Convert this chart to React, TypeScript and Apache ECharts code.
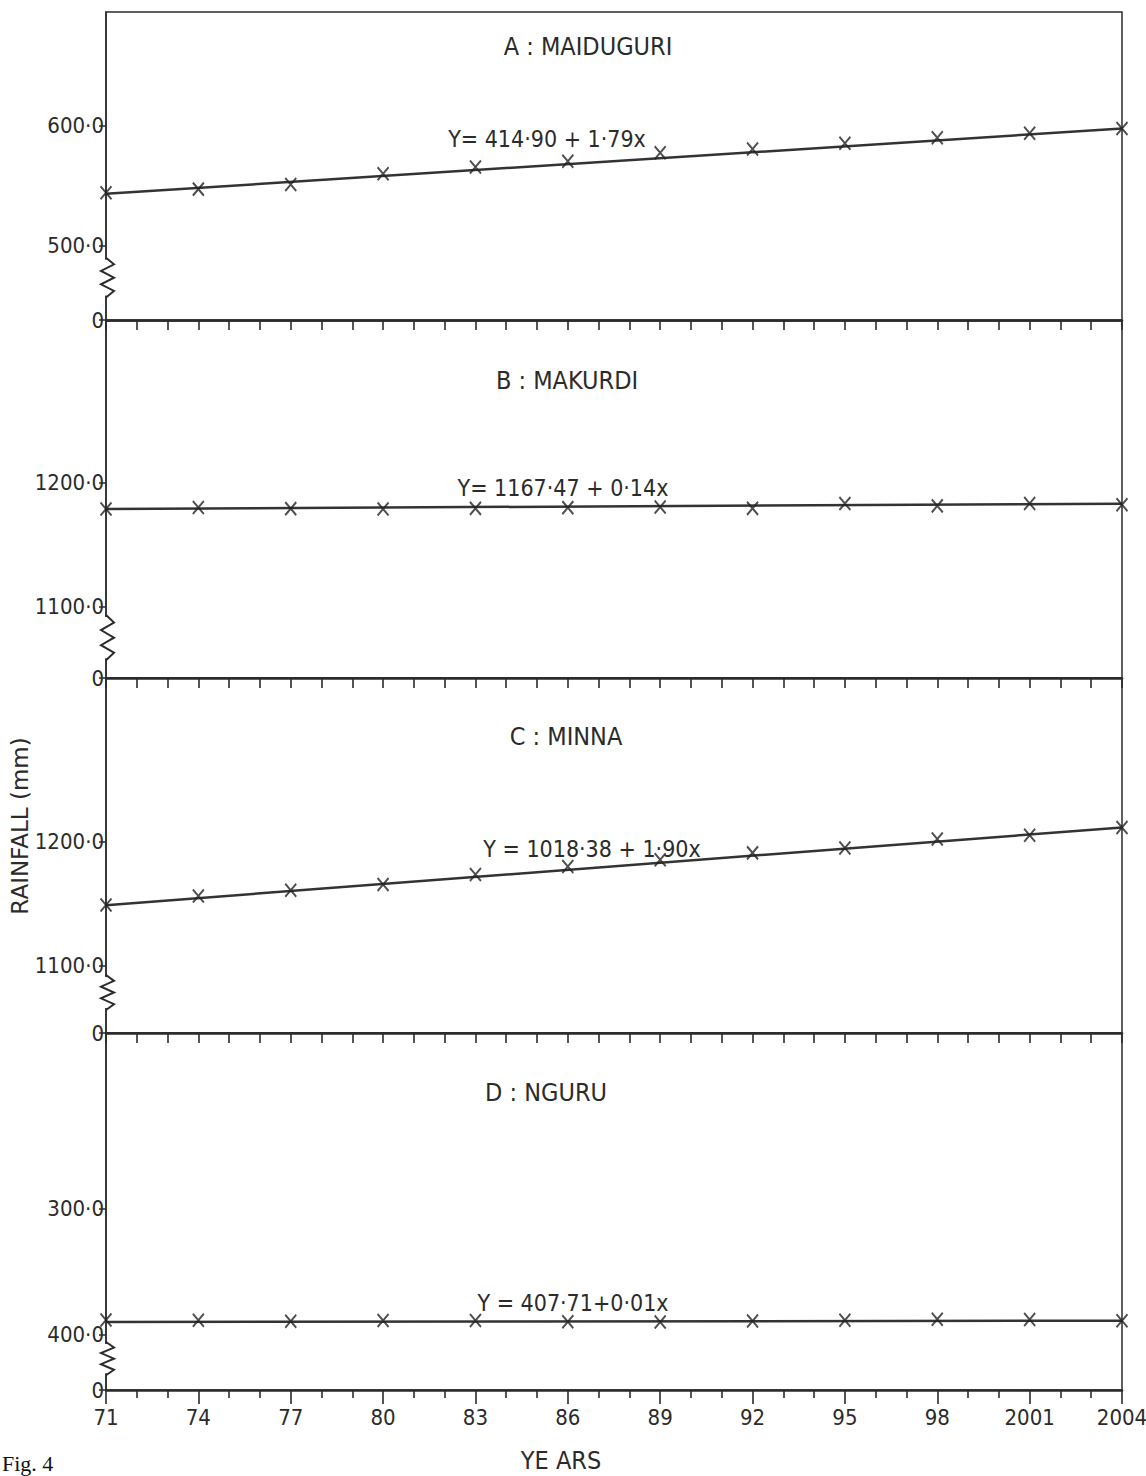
import React, { useEffect, useRef } from "react";
import * as echarts from "echarts";

// ---- data ----
const years = [1971, 1974, 1977, 1980, 1983, 1986, 1989, 1992, 1995, 1998, 2001, 2004];
const trendYears = [1971, 2004];

const maiduguri = [544.2, 547.2, 551.0, 560.0, 565.6, 570.4, 577.5, 580.7, 585.4, 590.0, 593.9, 597.8];
const makurdi = [1179.0, 1180.2, 1179.3, 1179.0, 1179.5, 1180.1, 1180.6, 1179.5, 1183.4, 1181.5, 1183.5, 1182.5];
const minna = [1149.2, 1156.3, 1161.0, 1165.6, 1173.7, 1180.1, 1185.5, 1191.1, 1195.0, 1202.3, 1205.3, 1211.6];
const nguru = [411.9, 411.7, 410.8, 411.4, 411.4, 410.4, 410.3, 411.0, 411.7, 412.4, 412.2, 411.3];

const trendMaiduguri = [543.3, 597.8];
const trendMakurdi = [1179.0, 1183.3];
const trendMinna = [1149.0, 1211.6];
const trendNguru = [410.3, 411.3];

const stationTitles = ["A : MAIDUGURI", "B : MAKURDI", "C : MINNA", "D : NGURU"];
const equations = [
  "Y= 414·90 + 1·79x",
  "Y= 1167·47 + 0·14x",
  "Y = 1018·38 + 1·90x",
  "Y = 407·71+0·01x",
];

// y-axis ranges (broken axes: bottom value is labelled "0")
const yMins = [438, 1042.7, 1046, 356.3];
const yMaxs = [695, 1330.6, 1332, 639.7];
// labelled tick values and their texts
const yTickValues = [
  [500, 600],
  [1100, 1200],
  [1100, 1200],
  [400, 500],
];
const yTickTexts = [
  ["500·0", "600·0"],
  ["1100·0", "1200·0"],
  ["1100·0", "1200·0"],
  ["400·0", "300·0"],
];
// axis break (zigzag) ranges
const breakTops = [490, 1093.5, 1092.7, 394.4];
const breakBottoms = [456.7, 1057, 1064.5, 368];

const xTickLabel = (v: number) => (v >= 2000 ? String(v) : String(v).slice(2));

const FONT = "'DejaVu Sans Condensed', 'Liberation Sans Narrow', 'DejaVu Sans', sans-serif";
const INK = "#2b2b2b";

export default function App() {
  const ref = useRef<HTMLDivElement>(null);

  useEffect(() => {
    document.body.style.margin = "0";
    if (!ref.current) return;
    const chart = echarts.init(ref.current, null, { renderer: "svg" });

    const values = [maiduguri, makurdi, minna, nguru];
    const trends = [trendMaiduguri, trendMakurdi, trendMinna, trendNguru];

    const gridTops = [12, 321, 678, 1033];
    const gridHeights = [308, 357, 355, 357];
    const titleY = [46, 380, 736, 1092];
    const titleX = [588, 567, 566, 546];
    const eqY = [139, 488, 849, 1303];
    const eqX = [547, 563, 592, 573];

    const grids: any[] = [];
    const xAxes: any[] = [];
    const yAxes: any[] = [];
    const series: any[] = [];
    const graphics: any[] = [];

    for (let i = 0; i < 4; i++) {
      const last = i === 3;
      grids.push({
        left: 106,
        width: 1016,
        top: gridTops[i],
        height: gridHeights[i],
        show: true,
        borderColor: INK,
        borderWidth: 1.5,
        containLabel: false,
        outerBoundsMode: "none",
      });
      xAxes.push({
        type: "value",
        gridIndex: i,
        min: 1971,
        max: 2004,
        interval: 3,
        axisLine: { show: true, onZero: false, lineStyle: { color: INK, width: 2.5 } },
        axisTick: { show: true, inside: false, length: last ? 14 : 10, lineStyle: { color: INK, width: 1.6 } },
        minorTick: { show: true, splitNumber: 3, length: last ? 8 : 10, lineStyle: { color: INK, width: 1.6 } },
        axisLabel: {
          show: last,
          formatter: xTickLabel,
          fontFamily: FONT,
          fontSize: 22,
          color: INK,
          margin: 16,
        },
        splitLine: { show: false },
        minorSplitLine: { show: false },
      });
      const tickVals = [yMins[i], ...yTickValues[i]];
      const tickTexts = ["0", ...yTickTexts[i]];
      yAxes.push({
        type: "value",
        gridIndex: i,
        min: yMins[i],
        max: yMaxs[i],
        axisLine: { show: true, onZero: false, lineStyle: { color: INK, width: 1.5 } },
        axisTick: {
          show: true,
          length: 7,
          customValues: tickVals,
          lineStyle: { color: INK, width: 1.5 },
        },
        axisLabel: {
          show: true,
          customValues: tickVals,
          formatter: (v: number) => {
            const k = tickVals.findIndex((t) => Math.abs(t - v) < 1e-6);
            return k >= 0 ? tickTexts[k] : "";
          },
          fontFamily: FONT,
          fontSize: 22,
          color: INK,
          margin: 2,
        },
        splitLine: { show: false },
      });

      // trend line
      series.push({
        type: "line",
        xAxisIndex: i,
        yAxisIndex: i,
        data: trendYears.map((y, k) => [y, trends[i][k]]),
        symbol: "none",
        lineStyle: { color: "#333", width: 2.5 },
        silent: true,
        z: 3,
      });
      // observation markers (x)
      series.push({
        type: "scatter",
        xAxisIndex: i,
        yAxisIndex: i,
        data: years.map((y, k) => [y, values[i][k]]),
        symbol: "path://M0,0L10,12M10,0L0,12",
        symbolSize: [11, 13],
        itemStyle: { color: "none", borderColor: "#222", borderWidth: 2 },
        clip: false,
        silent: true,
        z: 4,
      });
      // axis break zigzag
      series.push({
        type: "custom",
        xAxisIndex: i,
        yAxisIndex: i,
        data: [[1971, breakTops[i], breakBottoms[i]]],
        clip: false,
        silent: true,
        z: 5,
        renderItem: (params: any, api: any) => {
          const p1 = api.coord([api.value(0), api.value(1)]);
          const p2 = api.coord([api.value(0), api.value(2)]);
          const x = p1[0];
          const y1 = p1[1];
          const y2 = p2[1];
          const n = 6;
          const pts: number[][] = [[x, y1]];
          for (let k = 1; k < n; k++) {
            pts.push([x + (k % 2 === 1 ? 8 : -5), y1 + ((y2 - y1) * k) / n]);
          }
          pts.push([x, y2]);
          return {
            type: "group",
            children: [
              {
                type: "rect",
                shape: { x: x - 2, y: y1 + 2, width: 4, height: y2 - y1 - 4 },
                style: { fill: "#fff" },
              },
              {
                type: "polyline",
                shape: { points: pts },
                style: { stroke: INK, lineWidth: 2, fill: "none" },
              },
            ],
          };
        },
      });

      graphics.push({
        type: "text",
        x: titleX[i],
        y: titleY[i],
        style: {
          text: stationTitles[i],
          fontFamily: FONT,
          fontSize: 25,
          fill: INK,
          align: "center",
          verticalAlign: "middle",
        },
      });
      graphics.push({
        type: "text",
        x: eqX[i],
        y: eqY[i],
        style: {
          text: equations[i],
          fontFamily: FONT,
          fontSize: 23,
          fill: INK,
          align: "center",
          verticalAlign: "middle",
        },
      });
    }

    graphics.push({
      type: "text",
      x: 20,
      y: 826,
      rotation: Math.PI / 2,
      style: {
        text: "RAINFALL (mm)",
        fontFamily: "'DejaVu Sans', sans-serif",
        fontSize: 23,
        fill: INK,
        align: "center",
        verticalAlign: "middle",
      },
    });
    graphics.push({
      type: "text",
      x: 561,
      y: 1460,
      style: {
        text: "YE ARS",
        fontFamily: FONT,
        fontSize: 25,
        fill: INK,
        align: "center",
        verticalAlign: "middle",
      },
    });
    graphics.push({
      type: "text",
      x: 2,
      y: 1452,
      style: {
        text: "Fig. 4",
        fontFamily: "'Liberation Serif', serif",
        fontSize: 22,
        fill: "#111",
        align: "left",
        verticalAlign: "top",
      },
    });

    chart.setOption({
      animation: false,
      backgroundColor: "#fff",
      grid: grids,
      xAxis: xAxes,
      yAxis: yAxes,
      series,
      graphic: graphics,
    });

    return () => chart.dispose();
  }, []);

  return <div ref={ref} style={{ width: 1146, height: 1476 }} />;
}
